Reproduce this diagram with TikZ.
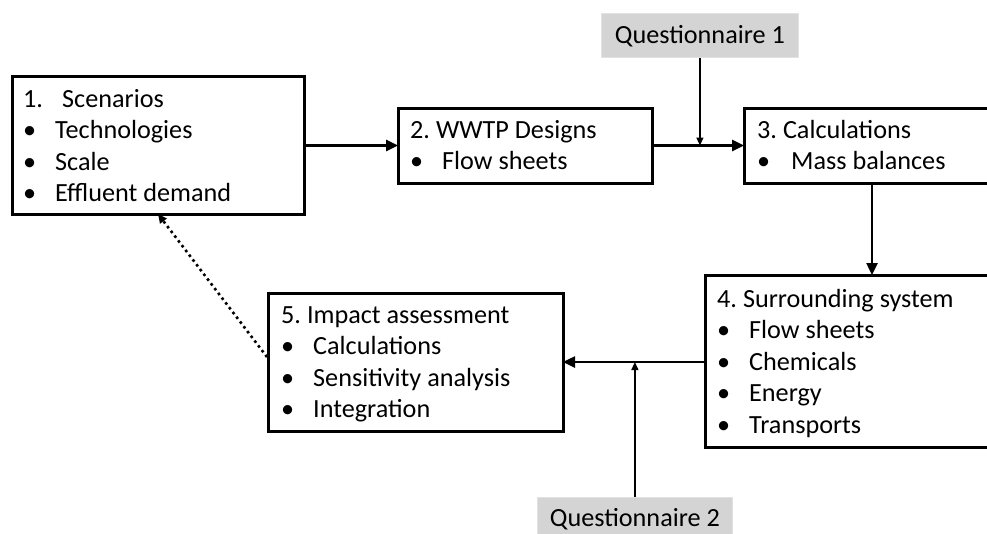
\documentclass[tikz,border=0pt]{standalone}
\usepackage{fontspec}
\setmainfont{Carlito}
\usetikzlibrary{arrows.meta,calc}
\frenchspacing

% one step line: a plain heading or a bulleted item
\newcommand\stepline[1]{\hbox{#1}}
\newcommand\stepitem[1]{\hbox{\makebox[32pt][l]{•}#1}}
\newcommand\steptext[1]{\vtop{\baselineskip=31.5pt\lineskiplimit=-\maxdimen #1}}

\tikzset{
  stepbox/.style={draw, line width=3pt, inner sep=0pt, outer sep=0pt, anchor=north west},
  steptxt/.style={inner sep=0pt, anchor=base west, font=\fontsize{26.2}{31.5}\selectfont},
  qbox/.style={fill={rgb,255:red,212;green,212;blue,212}, draw={rgb,255:red,225;green,225;blue,225},
    line width=0.8pt, inner sep=0pt, anchor=north west},
  qtxt/.style={inner sep=0pt, anchor=base, font=\fontsize{26.2}{31.5}\selectfont},
  flow/.style={line width=2.5pt, -{Triangle[length=12pt,width=11pt]}},
  feed/.style={line width=1.3pt, -{Triangle[length=8pt,width=7pt]}},
  back/.style={line width=2.6pt, dash pattern=on 2.6pt off 3.4pt,
    -{Triangle[length=9pt,width=8pt]}},
}

\begin{document}
\begin{tikzpicture}[x=1pt,y=-1pt]
  \useasboundingbox (0,0) rectangle (987,533);
  \clip (0,0) rectangle (987,533);

  % process steps
  \node[stepbox, minimum width=292pt, minimum height=138pt] (b1) at (12,76) {};
  \node[stepbox, minimum width=254pt, minimum height=75pt]  (b2) at (398,108) {};
  \node[stepbox, minimum width=256pt, minimum height=75pt]  (b3) at (744,108) {};
  \node[stepbox, minimum width=295pt, minimum height=172pt] (b4) at (705,275) {};
  \node[stepbox, minimum width=295pt, minimum height=138pt] (b5) at (268,293) {};

  \node[steptxt] (t1) at ($(b1.north west)+(11,31)$) {\steptext{%
    \stepline{\makebox[39pt][l]{1.}Scenarios}
    \stepitem{Technologies}
    \stepitem{Scale}
    \stepitem{Effluent demand}}};
  \node[steptxt] (t2) at ($(b2.north west)+(12,30)$) {\steptext{%
    \stepline{2. WWTP Designs}
    \stepitem{Flow sheets}}};
  \node[steptxt] (t3) at ($(b3.north west)+(13,30)$) {\steptext{%
    \stepline{3. Calculations}
    \stepitem{\hspace{2pt}Mass balances}}};
  \node[steptxt] (t4) at ($(b4.north west)+(12,32)$) {\steptext{%
    \stepline{4. Surrounding system}
    \stepitem{Flow sheets}
    \stepitem{Chemicals}
    \stepitem{Energy}
    \stepitem{Transports}}};
  \node[steptxt] (t5) at ($(b5.north west)+(13,30)$) {\steptext{%
    \stepline{5. Impact assessment}
    \stepitem{Calculations}
    \stepitem{Sensitivity analysis}
    \stepitem{Integration}}};

  % questionnaires
  \node[qbox, minimum width=197pt, minimum height=44pt] (q1) at (601,13) {};
  \node[qbox, minimum width=195pt, minimum height=53pt] (q2) at (537,497) {};
  \node[qtxt] (qt1) at ($(q1.north)+(0,30)$) {Questionnaire 1};
  \node[qtxt] (qt2) at ($(q2.north)+(0,29)$) {Questionnaire 2};

  % main flow
  \coordinate (c34) at (872,0);
  \draw[flow] (b1.east |- b2.west) -- (b2.west);
  \draw[flow] (b2.east) -- (b3.west |- b2.east);
  \draw[flow] (b3.south -| c34) -- (b4.north -| c34);
  \draw[flow] (b4.west |- b5.east) -- (b5.east);

  % questionnaire inputs
  \draw[feed] (q1.south) -- (q1.south |- b2.east);
  \draw[feed] (q2.north) -- (q2.north |- b5.east);

  % feedback to the scenarios
  \draw[back] ($(b5.west)+(-1,-5)$) -- (b1.south);
\end{tikzpicture}
\end{document}
